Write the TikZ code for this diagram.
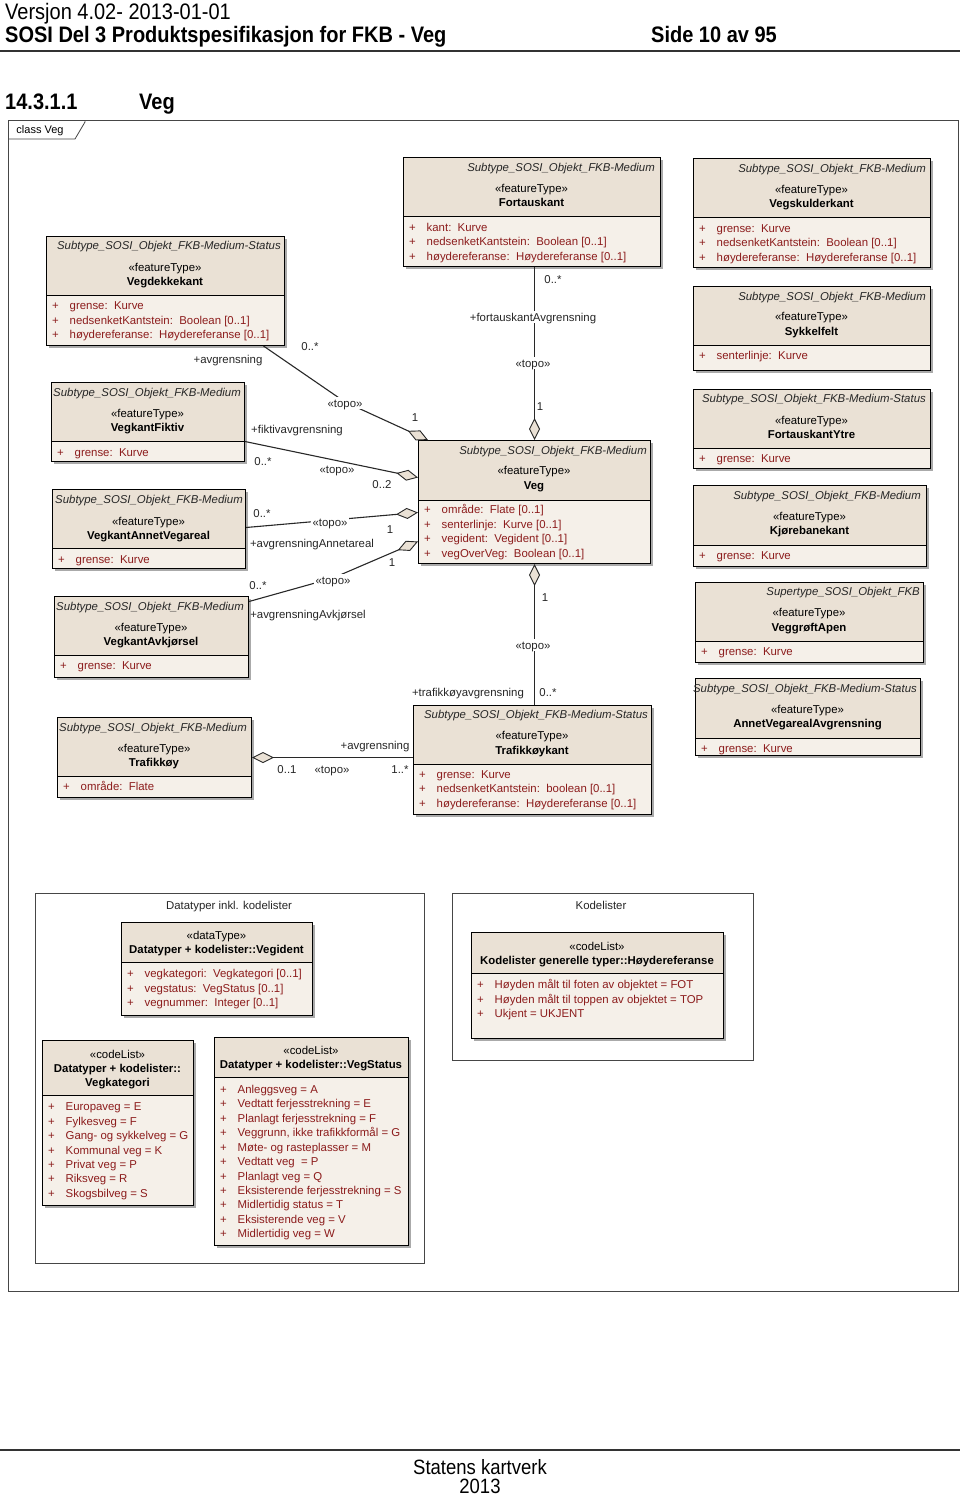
\documentclass[tikz,border=0pt]{standalone}
\usepackage{fontspec}
\setmainfont{Liberation Sans}
\usetikzlibrary{arrows.meta,calc}

\definecolor{hdrfill}{RGB}{234,225,213}
\definecolor{attrfill}{RGB}{245,240,233}
\definecolor{attrred}{RGB}{140,28,28}
\definecolor{shadowc}{RGB}{170,170,170}
\definecolor{linec}{RGB}{40,40,40}
\definecolor{framec}{RGB}{70,70,70}

\newcommand{\vstretch}[1]{\scalebox{1}[1.12]{#1}}

\tikzset{
  boxnode/.style={draw=black, line width=1pt, inner sep=0pt},
  boxline/.style={black, line width=0.9pt},
  tx/.style={inner sep=0pt, text height=8.2pt, text depth=0pt, font=\fontsize{11.4}{13}\selectfont},
  suptxt/.style={tx, font=\fontsize{11.4}{13}\selectfont\itshape, text=black!85},
  sttxt/.style={tx},
  nametxt/.style={tx, font=\fontsize{11.4}{13}\selectfont\bfseries},
  attxt/.style={tx, text=attrred, anchor=west},
  lbl/.style={tx, text=black!85},
  lblw/.style={lbl, fill=white, inner xsep=2pt, inner ysep=2pt},
  assoc/.style={draw=linec, line width=1.1pt},
  dia/.style={-{Diamond[length=22pt,width=11pt,fill=hdrfill,line width=0.9pt]}},
  pkg/.style={draw=framec, line width=0.9pt, inner sep=0pt},
  hdrtxt/.style={inner sep=0pt, anchor=base west, font=\fontsize{20}{24}\selectfont},
  hdrbold/.style={hdrtxt, font=\fontsize{20}{24}\selectfont\bfseries},
  foottxt/.style={inner sep=0pt, anchor=base, font=\fontsize{18.5}{22}\selectfont},
}

\newcommand{\umlbox}[6]{%
  \fill[shadowc] (#2+3,#3+3) rectangle (#4+3,#5+3);
  \fill[hdrfill] (#2,#3) rectangle (#4,#6);
  \fill[attrfill] (#2,#6) rectangle (#4,#5);
  \draw[boxline] (#2,#6) -- (#4,#6);
  \node[boxnode, minimum width={(#4-#2)*1pt}, minimum height={(#5-#3)*1pt}, anchor=north west] (#1) at (#2,#3) {};
}
\newcommand{\csup}[4]{\node[suptxt, anchor=east] (#1) at (#2,#3) {#4};}
\newcommand{\cst}[4]{\node[sttxt] (#1) at (#2,#3) {#4};}
\newcommand{\cname}[4]{\node[nametxt] (#1) at (#2,#3) {#4};}
\newcommand{\cattr}[4]{\node[attxt] (#1p) at (#2+6,#3) {+};\node[attxt] (#1) at (#2+23.5,#3) {#4};}

\begin{document}
\begin{tikzpicture}[x=1pt,y=-1pt]
\useasboundingbox (0,0) rectangle (960,1497);
\fill[white] (0,0) rectangle (960,1497);

% ---------- page header ----------
\node[hdrtxt] (hver) at (5,19) {\vstretch{Versjon 4.02- 2013-01-01}};
\node[hdrbold] (htitle) at (5,42) {\vstretch{SOSI Del 3 Produktspesifikasjon for FKB - Veg}};
\node[hdrbold] (hside) at (651,42) {\vstretch{Side 10 av 95}};
\draw[line width=2pt, black!80] (0,51) -- (960,51);
\node[hdrbold] (hnum) at (5,109) {\vstretch{14.3.1.1}};
\node[hdrbold] (hveg) at (139,109) {\vstretch{Veg}};

% ---------- diagram frame ----------
\draw[framec, line width=1pt] (8,120) rectangle (958,1291);
\draw[framec, line width=0.8pt] (8,139) -- (75,139) -- (85,122) -- (85,120);
\node[tx, font=\fontsize{11}{13}\selectfont] (clabel) at (40,129) {class Veg};

% ---------- classes ----------
% Fortauskant
\umlbox{fk}{403}{157}{660}{266}{216}
\csup{fk-s}{655}{167}{Subtype\_SOSI\_Objekt\_FKB-Medium}
\cst{fk-t}{531.5}{188}{«featureType»}
\cname{fk-n}{531.5}{202}{Fortauskant}
\cattr{fk-a1}{403}{227}{kant:\ \ Kurve}
\cattr{fk-a2}{403}{241}{nedsenketKantstein:\ \ Boolean [0..1]}
\cattr{fk-a3}{403}{256}{høydereferanse:\ \ Høydereferanse [0..1]}

% Vegskulderkant
\umlbox{vs}{693}{158}{930}{267}{217}
\csup{vs-s}{926}{168}{Subtype\_SOSI\_Objekt\_FKB-Medium}
\cst{vs-t}{811.5}{189}{«featureType»}
\cname{vs-n}{811.5}{203}{Vegskulderkant}
\cattr{vs-a1}{693}{228}{grense:\ \ Kurve}
\cattr{vs-a2}{693}{242}{nedsenketKantstein:\ \ Boolean [0..1]}
\cattr{vs-a3}{693}{257}{høydereferanse:\ \ Høydereferanse [0..1]}

% Sykkelfelt
\umlbox{sy}{693}{286}{930}{370}{345}
\csup{sy-s}{926}{296}{Subtype\_SOSI\_Objekt\_FKB-Medium}
\cst{sy-t}{811.5}{316}{«featureType»}
\cname{sy-n}{811.5}{331}{Sykkelfelt}
\cattr{sy-a1}{693}{355}{senterlinje:\ \ Kurve}

% FortauskantYtre
\umlbox{fy}{693}{389}{930}{468}{448}
\csup{fy-s}{926}{398}{Subtype\_SOSI\_Objekt\_FKB-Medium-Status}
\cst{fy-t}{811.5}{420}{«featureType»}
\cname{fy-n}{811.5}{434}{FortauskantYtre}
\cattr{fy-a1}{693}{458}{grense:\ \ Kurve}

% Kjørebanekant
\umlbox{kb}{693}{485}{926}{566}{545}
\csup{kb-s}{921}{495}{Subtype\_SOSI\_Objekt\_FKB-Medium}
\cst{kb-t}{809.5}{516}{«featureType»}
\cname{kb-n}{809.5}{530}{Kjørebanekant}
\cattr{kb-a1}{693}{555}{grense:\ \ Kurve}

% VeggrøftApen
\umlbox{va}{695}{582}{923}{662}{641}
\csup{va-s}{920}{591}{Supertype\_SOSI\_Objekt\_FKB}
\cst{va-t}{809}{612}{«featureType»}
\cname{va-n}{809}{627}{VeggrøftApen}
\cattr{va-a1}{695}{651}{grense:\ \ Kurve}

% AnnetVegarealAvgrensning
\umlbox{av}{695}{678}{920}{755}{738}
\csup{av-s}{917}{688}{Subtype\_SOSI\_Objekt\_FKB-Medium-Status}
\cst{av-t}{807.5}{709}{«featureType»}
\cname{av-n}{807.5}{723}{AnnetVegarealAvgrensning}
\cattr{av-a1}{695}{748}{grense:\ \ Kurve}

% Vegdekkekant
\umlbox{vd}{46}{236}{284}{345}{295}
\csup{vd-s}{281}{245}{Subtype\_SOSI\_Objekt\_FKB-Medium-Status}
\cst{vd-t}{165}{267}{«featureType»}
\cname{vd-n}{165}{281}{Vegdekkekant}
\cattr{vd-a1}{46}{305}{grense:\ \ Kurve}
\cattr{vd-a2}{46}{320}{nedsenketKantstein:\ \ Boolean [0..1]}
\cattr{vd-a3}{46}{334}{høydereferanse:\ \ Høydereferanse [0..1]}

% VegkantFiktiv
\umlbox{vf}{51}{382}{244}{461}{441}
\csup{vf-s}{241}{392}{Subtype\_SOSI\_Objekt\_FKB-Medium}
\cst{vf-t}{147.5}{413}{«featureType»}
\cname{vf-n}{147.5}{427}{VegkantFiktiv}
\cattr{vf-a1}{51}{452}{grense:\ \ Kurve}

% VegkantAnnetVegareal
\umlbox{vav}{52}{489}{245}{568}{548}
\csup{vav-s}{243}{499}{Subtype\_SOSI\_Objekt\_FKB-Medium}
\cst{vav-t}{148.5}{521}{«featureType»}
\cname{vav-n}{148.5}{535}{VegkantAnnetVegareal}
\cattr{vav-a1}{52}{559}{grense:\ \ Kurve}

% VegkantAvkjørsel
\umlbox{vak}{54}{596}{248}{677}{655}
\csup{vak-s}{244}{606}{Subtype\_SOSI\_Objekt\_FKB-Medium}
\cst{vak-t}{151}{627}{«featureType»}
\cname{vak-n}{151}{641}{VegkantAvkjørsel}
\cattr{vak-a1}{54}{665}{grense:\ \ Kurve}

% Trafikkøy
\umlbox{ty}{57}{717}{251}{797}{776}
\csup{ty-s}{247}{727}{Subtype\_SOSI\_Objekt\_FKB-Medium}
\cst{ty-t}{154}{748}{«featureType»}
\cname{ty-n}{154}{762}{Trafikkøy}
\cattr{ty-a1}{57}{786}{område:\ \ Flate}

% Veg
\umlbox{veg}{418}{440}{650}{563}{500}
\csup{veg-s}{647}{450}{Subtype\_SOSI\_Objekt\_FKB-Medium}
\cst{veg-t}{534}{470}{«featureType»}
\cname{veg-n}{534}{485}{Veg}
\cattr{veg-a1}{418}{509}{område:\ \ Flate [0..1]}
\cattr{veg-a2}{418}{524}{senterlinje:\ \ Kurve [0..1]}
\cattr{veg-a3}{418}{538}{vegident:\ \ Vegident [0..1]}
\cattr{veg-a4}{418}{553}{vegOverVeg:\ \ Boolean [0..1]}

% Trafikkøykant
\umlbox{tk}{413}{705}{651}{814}{764}
\csup{tk-s}{648}{714}{Subtype\_SOSI\_Objekt\_FKB-Medium-Status}
\cst{tk-t}{532}{735}{«featureType»}
\cname{tk-n}{532}{750}{Trafikkøykant}
\cattr{tk-a1}{413}{774}{grense:\ \ Kurve}
\cattr{tk-a2}{413}{788}{nedsenketKantstein:\ \ boolean [0..1]}
\cattr{tk-a3}{413}{803}{høydereferanse:\ \ Høydereferanse [0..1]}

% ---------- packages ----------
\node[pkg, minimum width=389pt, minimum height=370pt, anchor=north west] (pk1) at (35,893) {};
\node[lbl] (pk1-l) at (229,905) {Datatyper inkl. kodelister};
\node[pkg, minimum width=301pt, minimum height=167pt, anchor=north west] (pk2) at (452,893) {};
\node[lbl] (pk2-l) at (601,905) {Kodelister};

% Vegident
\umlbox{vi}{121}{922}{312}{1015}{962}
\cst{vi-t}{216.5}{935}{«dataType»}
\cname{vi-n}{216.5}{949}{Datatyper + kodelister::Vegident}
\cattr{vi-a1}{121}{973}{vegkategori:\ \ Vegkategori [0..1]}
\cattr{vi-a2}{121}{988}{vegstatus:\ \ VegStatus [0..1]}
\cattr{vi-a3}{121}{1002}{vegnummer:\ \ Integer [0..1]}

% Vegkategori
\umlbox{vk}{42}{1040}{193}{1205}{1095}
\cst{vk-t}{117.5}{1054}{«codeList»}
\cname{vk-n}{117.5}{1068}{Datatyper + kodelister::}
\cname{vk-n2}{117.5}{1082}{Vegkategori}
\cattr{vk-a1}{42}{1106}{Europaveg = E}
\cattr{vk-a2}{42}{1121}{Fylkesveg = F}
\cattr{vk-a3}{42}{1135}{Gang- og sykkelveg = G}
\cattr{vk-a4}{42}{1150}{Kommunal veg = K}
\cattr{vk-a5}{42}{1164}{Privat veg = P}
\cattr{vk-a6}{42}{1178}{Riksveg = R}
\cattr{vk-a7}{42}{1193}{Skogsbilveg = S}

% VegStatus
\umlbox{vst}{214}{1037}{408}{1245}{1077}
\cst{vst-t}{311}{1050}{«codeList»}
\cname{vst-n}{311}{1064}{Datatyper + kodelister::VegStatus}
\cattr{vst-a1}{214}{1089}{Anleggsveg = A}
\cattr{vst-a2}{214}{1103}{Vedtatt ferjesstrekning = E}
\cattr{vst-a3}{214}{1118}{Planlagt ferjesstrekning = F}
\cattr{vst-a4}{214}{1132}{Veggrunn, ikke trafikkformål = G}
\cattr{vst-a5}{214}{1147}{Møte- og rasteplasser = M}
\cattr{vst-a6}{214}{1161}{Vedtatt veg \ = P}
\cattr{vst-a7}{214}{1176}{Planlagt veg = Q}
\cattr{vst-a8}{214}{1190}{Eksisterende ferjesstrekning = S}
\cattr{vst-a9}{214}{1204}{Midlertidig status = T}
\cattr{vst-a10}{214}{1219}{Eksisterende veg = V}
\cattr{vst-a11}{214}{1233}{Midlertidig veg = W}

% Høydereferanse
\umlbox{hr}{471}{932}{723}{1038}{973}
\cst{hr-t}{597}{946}{«codeList»}
\cname{hr-n}{597}{960}{Kodelister generelle typer::Høydereferanse}
\cattr{hr-a1}{471}{984}{Høyden målt til foten av objektet = FOT}
\cattr{hr-a2}{471}{999}{Høyden målt til toppen av objektet = TOP}
\cattr{hr-a3}{471}{1013}{Ukjent = UKJENT}

% ---------- connectors ----------
\coordinate (vdbend) at (345,402);
\coordinate (vakbend) at (333,578);

\draw[assoc, dia] (fk.south -| veg.north) -- (veg.north);
\draw[assoc, dia] ([xshift=98pt]vd.south) -- (vdbend) -- ([xshift=10pt]veg.north west);
\draw[assoc, dia] ([yshift=-19.5pt]vf.east) -- ([yshift=24.5pt]veg.west);
\draw[assoc, dia] ([yshift=1.5pt]vav.east) -- ([yshift=-10.5pt]veg.west);
\draw[assoc, dia] ([yshift=35.5pt]vak.east) -- (vakbend) -- ([yshift=-39.5pt]veg.west);
\draw[assoc, dia] (tk.north -| veg.south) -- (veg.south);
\draw[assoc, dia] (tk.west |- ty.east) -- (ty.east);

% ---------- connector labels ----------
\node[lbl] (c1m1) at (553,279) {0..*};
\node[lblw] (c1r) at (533,317) {+fortauskantAvgrensning};
\node[lblw] (c1s) at (533,363) {«topo»};
\node[lbl] (c1m2) at (540,406) {1};

\node[lbl] (c2m1) at (310,346) {0..*};
\node[lbl] (c2r) at (228,359) {+avgrensning};
\node[lblw] (c2s) at (345,403) {«topo»};
\node[lbl] (c2m2) at (415,417) {1};

\node[lbl] (c3r) at (297,429) {+fiktivavgrensning};
\node[lbl] (c3m1) at (263,461) {0..*};
\node[lbl] (c3s) at (337,469) {«topo»};
\node[lbl] (c3m2) at (382,484) {0..2};

\node[lbl] (c4m1) at (262,513) {0..*};
\node[lblw] (c4s) at (330,522) {«topo»};
\node[lbl] (c4m2) at (390,529) {1};
\node[lbl] (c4r) at (312,543) {+avgrensningAnnetareal};

\node[lbl] (c5m1) at (258,585) {0..*};
\node[lblw] (c5s) at (333,580) {«topo»};
\node[lbl] (c5m2) at (392,562) {1};
\node[lbl] (c5r) at (308,614) {+avgrensningAvkjørsel};

\node[lbl] (c6m2) at (545,597) {1};
\node[lblw] (c6s) at (533,645) {«topo»};
\node[lbl] (c6r) at (468,692) {+trafikkøyavgrensning};
\node[lbl] (c6m1) at (548,692) {0..*};

\node[lbl] (c7r) at (375,745) {+avgrensning};
\node[lbl] (c7m1) at (287,769) {0..1};
\node[lbl] (c7s) at (332,769) {«topo»};
\node[lbl] (c7m2) at (400,769) {1..*};

% ---------- footer ----------
\draw[line width=2pt, black!80] (0,1450) -- (960,1450);
\node[foottxt] (fa) at (480,1474) {\vstretch{Statens kartverk}};
\node[foottxt] (fb) at (480,1493) {\vstretch{2013}};
\end{tikzpicture}
\end{document}
